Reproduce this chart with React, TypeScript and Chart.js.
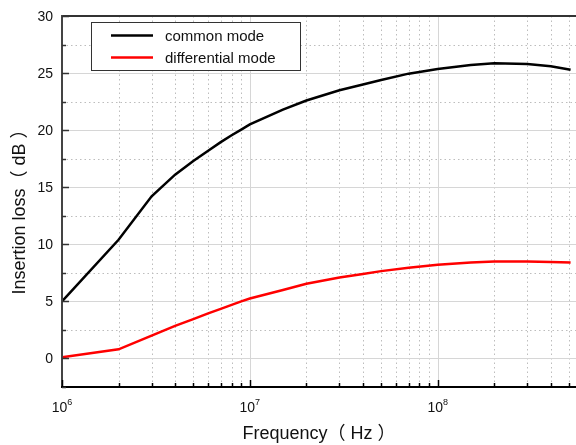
import React, { useEffect, useRef } from "react";
import { Chart, registerables } from "chart.js";

Chart.register(...registerables);

const frequencies = [1e6, 2e6, 3e6, 4e6, 5e6, 6e6, 7e6, 8e6, 9e6, 1e7, 1.5e7, 2e7, 3e7, 4e7, 5e7, 7e7, 1e8, 1.5e8, 2e8, 3e8, 4e8, 5.1e8];
const commonMode = [5.0, 10.4, 14.2, 16.1, 17.3, 18.2, 18.95, 19.55, 20.05, 20.5, 21.8, 22.6, 23.5, 24.0, 24.4, 24.95, 25.35, 25.7, 25.85, 25.8, 25.6, 25.3];
const differentialMode = [0.1, 0.8, 2.0, 2.85, 3.45, 3.95, 4.35, 4.7, 5.0, 5.25, 6.0, 6.55, 7.1, 7.4, 7.65, 7.95, 8.2, 8.4, 8.5, 8.5, 8.45, 8.4];
const seriesLabels = ["common mode", "differential mode"];
const seriesColors = ["#000000", "#ff0000"];
const yMajorTicks = [0, 5, 10, 15, 20, 25, 30];
const yMinorTicks = [-2.5, 2.5, 7.5, 12.5, 17.5, 22.5, 27.5];
const xDecades = [6, 7, 8];
const xTitle = "Frequency（ Hz ）";
const yTitle = "Insertion loss（ dB ）";

const FONT = '"Liberation Sans", Arial, "Noto Sans CJK SC", sans-serif';

const framePlugin = {
  id: "frame",
  beforeDatasetsDraw(chart: any) {
    const { ctx, chartArea: a, scales } = chart;
    const x = scales.x, y = scales.y;
    ctx.save();
    ctx.lineWidth = 1;
    ctx.strokeStyle = "#bdbdbd";
    ctx.setLineDash([1.5, 3]);
    yMinorTicks.forEach((v) => {
      const py = Math.round(y.getPixelForValue(v)) + 0.5;
      if (py <= a.top + 1 || py >= a.bottom - 1) return;
      ctx.beginPath(); ctx.moveTo(a.left, py); ctx.lineTo(a.right, py); ctx.stroke();
    });
    xDecades.forEach((d) => {
      for (let m = 2; m <= 9; m++) {
        const v = m * Math.pow(10, d);
        if (v > x.max) break;
        const px = Math.round(x.getPixelForValue(v)) + 0.5;
        ctx.beginPath(); ctx.moveTo(px, a.top); ctx.lineTo(px, a.bottom); ctx.stroke();
      }
    });
    ctx.setLineDash([]);
    ctx.strokeStyle = "#d6d6d6";
    yMajorTicks.forEach((v) => {
      const py = Math.round(y.getPixelForValue(v)) + 0.5;
      if (py <= a.top + 1) return;
      ctx.beginPath(); ctx.moveTo(a.left, py); ctx.lineTo(a.right, py); ctx.stroke();
    });
    xDecades.forEach((d) => {
      const px = Math.round(x.getPixelForValue(Math.pow(10, d))) + 0.5;
      if (px <= a.left + 1) return;
      ctx.beginPath(); ctx.moveTo(px, a.top); ctx.lineTo(px, a.bottom); ctx.stroke();
    });
    ctx.restore();
  },
  afterDatasetsDraw(chart: any) {
    const { ctx, chartArea: a, scales } = chart;
    const x = scales.x, y = scales.y;
    ctx.save();
    ctx.lineWidth = 2;
    ctx.strokeStyle = "#333333";
    ctx.beginPath(); ctx.moveTo(a.left, a.top); ctx.lineTo(a.right, a.top); ctx.stroke();
    ctx.strokeStyle = "#444444";
    ctx.beginPath(); ctx.moveTo(a.left, a.top - 1); ctx.lineTo(a.left, a.bottom + 1); ctx.stroke();
    ctx.strokeStyle = "#000000";
    ctx.beginPath(); ctx.moveTo(a.left - 1, a.bottom); ctx.lineTo(a.right, a.bottom); ctx.stroke();
    ctx.lineWidth = 1.5;
    ctx.strokeStyle = "#333333";
    yMajorTicks.forEach((v) => {
      const py = Math.round(y.getPixelForValue(v)) + 0.5;
      ctx.beginPath(); ctx.moveTo(a.left, py); ctx.lineTo(a.left + 7, py); ctx.stroke();
    });
    yMinorTicks.forEach((v) => {
      const py = Math.round(y.getPixelForValue(v)) + 0.5;
      ctx.beginPath(); ctx.moveTo(a.left, py); ctx.lineTo(a.left + 4, py); ctx.stroke();
    });
    ctx.strokeStyle = "#000000";
    xDecades.forEach((d) => {
      const px = Math.round(x.getPixelForValue(Math.pow(10, d))) + 0.5;
      ctx.beginPath(); ctx.moveTo(px, a.bottom); ctx.lineTo(px, a.bottom - 7); ctx.stroke();
      for (let m = 2; m <= 9; m++) {
        const v = m * Math.pow(10, d);
        if (v > x.max) break;
        const qx = Math.round(x.getPixelForValue(v)) + 0.5;
        ctx.beginPath(); ctx.moveTo(qx, a.bottom); ctx.lineTo(qx, a.bottom - 4); ctx.stroke();
      }
    });
    ctx.fillStyle = "#111111";
    ctx.font = "14px " + FONT;
    ctx.textAlign = "right";
    ctx.textBaseline = "middle";
    yMajorTicks.forEach((v) => {
      ctx.fillText(String(v), a.left - 9, y.getPixelForValue(v) + 1);
    });
    xDecades.forEach((d) => {
      const px = x.getPixelForValue(Math.pow(10, d));
      ctx.font = "14px " + FONT;
      const w1 = ctx.measureText("10").width;
      ctx.font = "9px " + FONT;
      const w2 = ctx.measureText(String(d)).width;
      const start = px - (w1 + w2) / 2;
      ctx.textAlign = "left";
      ctx.textBaseline = "alphabetic";
      ctx.font = "14px " + FONT;
      ctx.fillText("10", start, a.bottom + 25);
      ctx.font = "9px " + FONT;
      ctx.fillText(String(d), start + w1, a.bottom + 18);
    });
    ctx.font = "18px " + FONT;
    ctx.textAlign = "center";
    ctx.textBaseline = "middle";
    ctx.fillText(xTitle, (a.left + a.right) / 2, 434);
    ctx.save();
    ctx.translate(20, (a.top + a.bottom) / 2 + 6);
    ctx.rotate(-Math.PI / 2);
    ctx.fillText(yTitle, 0, 0);
    ctx.restore();
    ctx.fillStyle = "#ffffff";
    ctx.fillRect(91, 22, 210, 49);
    ctx.lineWidth = 1;
    ctx.strokeStyle = "#333333";
    ctx.strokeRect(91.5, 22.5, 209, 48);
    const rows = [35.5, 57.5];
    chart.data.datasets.forEach((ds: any, i: number) => {
      ctx.strokeStyle = ds.borderColor;
      ctx.lineWidth = 2.5;
      ctx.beginPath(); ctx.moveTo(111, rows[i]); ctx.lineTo(153, rows[i]); ctx.stroke();
      ctx.fillStyle = "#111111";
      ctx.font = "15px " + FONT;
      ctx.textAlign = "left";
      ctx.textBaseline = "middle";
      ctx.fillText(ds.label, 165, rows[i] + 1);
    });
    ctx.restore();
  },
};

export default function App() {
  const ref = useRef<HTMLCanvasElement | null>(null);
  useEffect(() => {
    if (!ref.current) return;
    const chart = new Chart(ref.current, {
      type: "line",
      data: {
        datasets: [
          {
            label: seriesLabels[0],
            data: frequencies.map((f, i) => ({ x: f, y: commonMode[i] })),
            borderColor: seriesColors[0],
            backgroundColor: seriesColors[0],
            borderWidth: 2.5,
            pointRadius: 0,
            tension: 0,
          },
          {
            label: seriesLabels[1],
            data: frequencies.map((f, i) => ({ x: f, y: differentialMode[i] })),
            borderColor: seriesColors[1],
            backgroundColor: seriesColors[1],
            borderWidth: 2.5,
            pointRadius: 0,
            tension: 0,
          },
        ],
      },
      options: {
        animation: false,
        responsive: false,
        maintainAspectRatio: false,
        devicePixelRatio: 1,
        layout: { padding: { left: 62, top: 16, right: 0, bottom: 58 } },
        plugins: { legend: { display: false }, tooltip: { enabled: false } },
        scales: {
          x: { type: "logarithmic", min: 1e6, max: 5.45e8, display: false },
          y: { type: "linear", min: -2.5, max: 30, display: false },
        },
      },
      plugins: [framePlugin],
    });
    return () => chart.destroy();
  }, []);
  return (
    <div style={{ position: "absolute", left: 0, top: 0, width: 576, height: 445, background: "#fff" }}>
      <canvas ref={ref} width={576} height={445} />
    </div>
  );
}
